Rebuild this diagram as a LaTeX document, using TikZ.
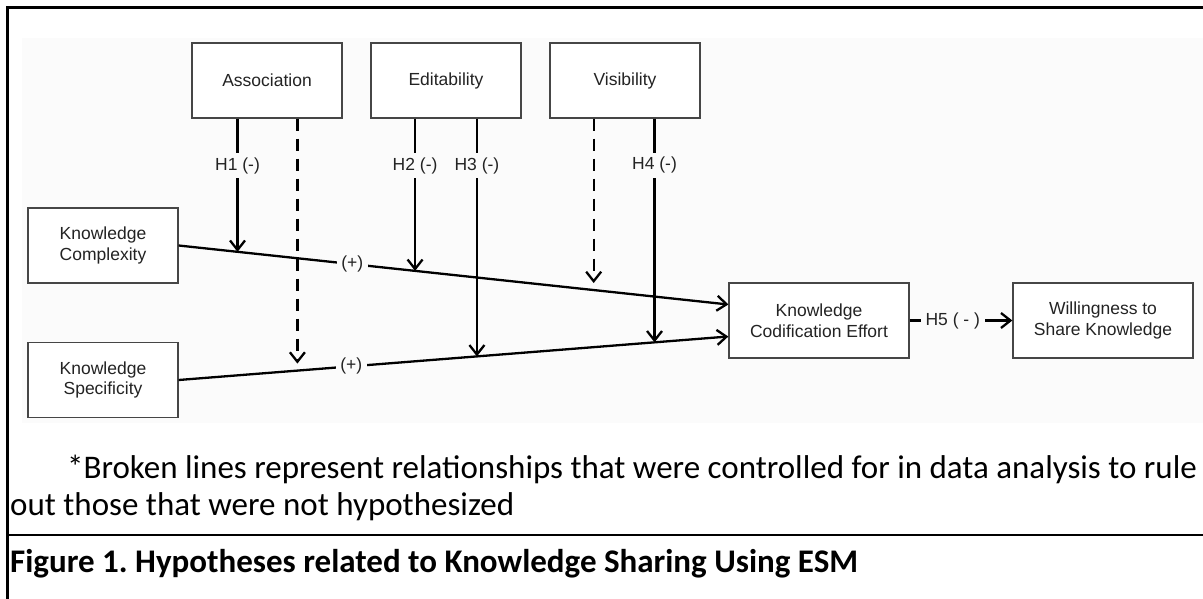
\documentclass[tikz,border=0pt]{standalone}
\usepackage{fontspec}
\newfontfamily\arialf{Liberation Sans}
\newfontfamily\calib{Carlito}
\usetikzlibrary{arrows.meta,calc}
\definecolor{bgc}{RGB}{251,251,251}
\definecolor{boxline}{RGB}{70,70,70}
\definecolor{boxtext}{RGB}{35,35,35}
\frenchspacing
\begin{document}
\begin{tikzpicture}[x=1pt,y=-1pt,
  box/.style={draw=boxline,line width=1.3pt,fill=white,minimum width=150pt,minimum height=75pt,inner sep=0pt,align=center,text=boxtext,font=\arialf\fontsize{17.5}{20.5}\selectfont},
  wide/.style={box,minimum width=180pt},
  link/.style={line width=2.3pt,-{Straight Barb[length=9.5pt,width=15pt]}},
  ctrl/.style={link,dash pattern=on 12pt off 8pt},
  lbl/.style={fill=bgc,inner xsep=4.5pt,inner ysep=4pt,text=boxtext,font=\arialf\fontsize{17.5}{20}\selectfont},
  note/.style={anchor=base west,inner sep=0pt,font=\calib\fontsize{33}{38}\selectfont}
]
\path[use as bounding box] (0,0) rectangle (1203,599);
\fill[bgc] (22,38) rectangle (1203,423);
\draw[line width=2.5pt] (1203,7.5) -- (7.5,7.5) -- (7.5,599);
\draw[line width=2.5pt] (7.5,535) -- (1203,535);

\node[box] (assoc) at (267,80.5) {Association};
\node[box] (edit) at (446,80.5) {Editability};
\node[box] (vis) at (625,80.5) {Visibility};
\node[box] (kc) at (103,245.5) {Knowledge\\Complexity};
\node[box] (ks) at (103,380) {Knowledge\\Specificity};
\node[wide] (kce) at (819,320.5) {Knowledge\\Codification Effort};
\node[wide] (wsk) at (1103,320.5) {Willingness to\\Share Knowledge};

\coordinate (cin) at ([yshift=16pt]kce.west);
\coordinate (sin) at ([yshift=-16pt]kce.west);
\coordinate (p1) at ($(kc.east)!0.1071!(cin)$);
\coordinate (p2) at ($(kc.east)!0.4301!(cin)$);
\coordinate (p5) at ($(kc.east)!0.755!(cin)$);
\coordinate (q0) at ($(ks.east)!0.216!(sin)$);
\coordinate (q3) at ($(ks.east)!0.5426!(sin)$);
\coordinate (q4) at ($(ks.east)!0.8657!(sin)$);

\draw[link] (kc.east) -- node[lbl,pos=0.316]{(+)} (cin);
\draw[link] (ks.east) -- node[lbl,pos=0.314]{(+)} (sin);
\draw[link] (kce.east) -- node[lbl,pos=0.42]{H5 ( - )} (wsk.west);

\draw[link] (assoc.south -| p1) -- node[lbl,pos=0.352]{H1 (-)} (p1);
\draw[ctrl,shorten >=7pt] (assoc.south -| q0) -- (q0);
\draw[link] (edit.south -| p2) -- node[lbl,pos=0.308]{H2 (-)} (p2);
\draw[link] (edit.south -| q3) -- node[lbl,pos=0.197]{H3 (-)} (q3);
\draw[ctrl,shorten >=7pt] (vis.south -| p5) -- (p5);
\draw[link] (vis.south -| q4) -- node[lbl,pos=0.209]{H4 (-)} (q4);

\node[note] (fn1) at (67,478) {*Broken lines represent relationships that were controlled for in data analysis to rule};
\node[note] (fn2) at (10,515) {out those that were not hypothesized};
\node[note,font=\calib\bfseries\fontsize{33}{38}\selectfont] (cap) at (10,572) {Figure 1. Hypotheses related to Knowledge Sharing Using ESM};
\end{tikzpicture}
\end{document}
